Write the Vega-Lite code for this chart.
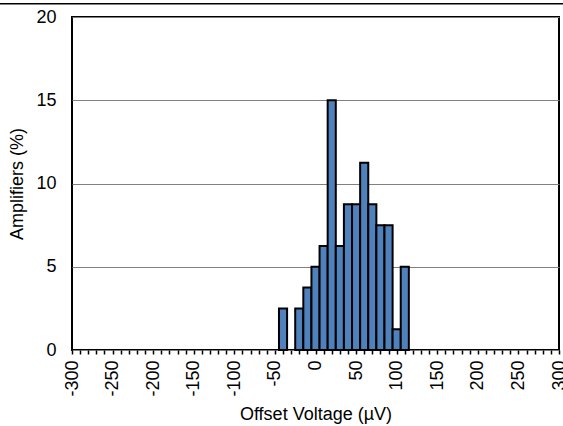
{
  "$schema": "https://vega.github.io/schema/vega-lite/v6.json",
  "autosize": "none",
  "width": 487,
  "height": 333,
  "padding": {"left": 72, "top": 17, "right": 4, "bottom": 76},
  "background": "white",
  "config": {
    "font": "Liberation Sans",
    "view": {"stroke": "black", "strokeWidth": 2},
    "axis": {"labelFont": "Liberation Sans", "titleFont": "Liberation Sans", "labelColor": "black", "titleColor": "black", "labelFontSize": 18, "titleFontSize": 18, "titleFontWeight": "normal"}
  },
  "data": {"values": [
    {"lo": -45, "hi": -35, "pct": 2.5},
    {"lo": -25, "hi": -15, "pct": 2.5},
    {"lo": -15, "hi": -5, "pct": 3.75},
    {"lo": -5, "hi": 5, "pct": 5},
    {"lo": 5, "hi": 15, "pct": 6.25},
    {"lo": 15, "hi": 25, "pct": 15},
    {"lo": 25, "hi": 35, "pct": 6.25},
    {"lo": 35, "hi": 45, "pct": 8.75},
    {"lo": 45, "hi": 55, "pct": 8.75},
    {"lo": 55, "hi": 65, "pct": 11.25},
    {"lo": 65, "hi": 75, "pct": 8.75},
    {"lo": 75, "hi": 85, "pct": 7.5},
    {"lo": 85, "hi": 95, "pct": 7.5},
    {"lo": 95, "hi": 105, "pct": 1.25},
    {"lo": 105, "hi": 115, "pct": 5}
  ]},
  "resolve": {"axis": {"x": "independent", "y": "independent"}},
  "layer": [
    {
      "mark": {"type": "bar", "fill": "#4F81BD", "stroke": "black", "strokeWidth": 2},
      "encoding": {
        "x": {
          "field": "lo", "type": "quantitative",
          "scale": {"domain": [-300, 300], "nice": false, "zero": false},
          "axis": {
            "title": "Offset Voltage (µV)",
            "values": [-300,-290,-280,-270,-260,-250,-240,-230,-220,-210,-200,-190,-180,-170,-160,-150,-140,-130,-120,-110,-100,-90,-80,-70,-60,-50,-40,-30,-20,-10,0,10,20,30,40,50,60,70,80,90,100,110,120,130,140,150,160,170,180,190,200,210,220,230,240,250,260,270,280,290,300],
            "labelExpr": "datum.value % 50 === 0 ? toString(datum.value) : ''",
            "labelAngle": 270,
            "labelAlign": "right",
            "labelBaseline": "middle",
            "labelPadding": 6,
            "labelOverlap": false,
            "labelFlush": false,
            "domain": false,
            "grid": false,
            "ticks": true,
            "tickSize": 4,
            "tickWidth": 1.5,
            "tickColor": "black",
            "titlePadding": 9
          }
        },
        "x2": {"field": "hi"},
        "y": {
          "field": "pct", "type": "quantitative",
          "scale": {"domain": [0, 20], "nice": false},
          "axis": {
            "title": "Amplifiers (%)",
            "values": [0, 5, 10, 15, 20],
            "domain": false,
            "ticks": false,
            "grid": true,
            "gridColor": "#808080",
            "gridWidth": 1,
            "gridOpacity": 1,
            "labelPadding": 16,
            "titlePadding": 9
          }
        },
        "y2": {"datum": 0}
      }
    },
    {
      "data": {"values": [{"x0": -389, "x1": 306, "yv": 20.8}]},
      "mark": {"type": "rule", "color": "black", "strokeWidth": 1.5, "clip": false},
      "encoding": {
        "x": {"field": "x0", "type": "quantitative", "axis": null},
        "x2": {"field": "x1"},
        "y": {"field": "yv", "type": "quantitative", "axis": null}
      }
    }
  ]
}
